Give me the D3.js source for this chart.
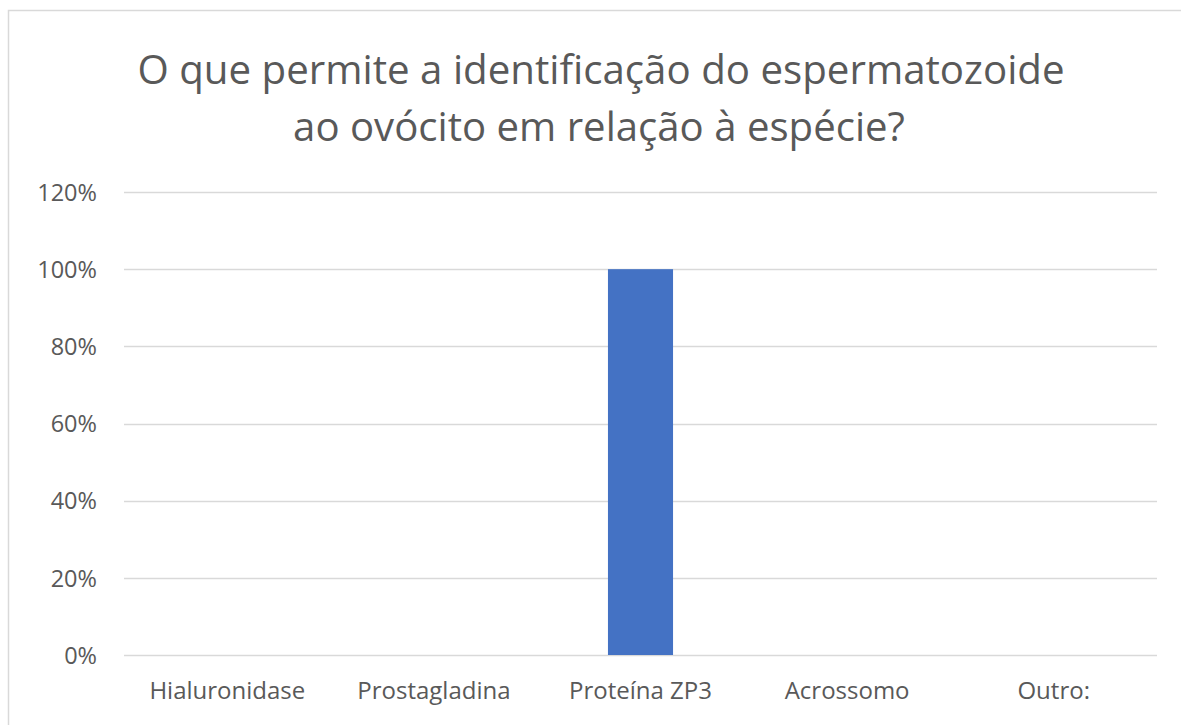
<!DOCTYPE html>
<html><head><meta charset="utf-8">
<script src="https://cdn.jsdelivr.net/npm/d3@7"></script>
<style>body{margin:0;background:#fff;} svg{display:block;} text{font-family:"Open Sans","Liberation Sans",sans-serif;fill:#595959;}</style>
</head><body>
<svg id="c" width="1181" height="725"></svg>
<script>
const categories = ["Hialuronidase","Prostagladina","Proteína ZP3","Acrossomo","Outro:"];
const values = [0, 0, 1, 0, 0];
const yTicks = [0, 0.2, 0.4, 0.6, 0.8, 1.0, 1.2];
const titleLines = ["O que permite a identificação do espermatozoide","ao ovócito em relação à espécie?"];

const svg = d3.select("#c");
svg.append("rect").attr("x",8.5).attr("y",10.5).attr("width",1190).attr("height",730)
  .attr("fill","#fff").attr("stroke","#d9d9d9").attr("stroke-width",1.5);

const m = {left:124, right:1157, top:192, bottom:655};
const x = d3.scaleBand().domain(categories).range([m.left,m.right]).paddingInner(0.685).paddingOuter(0.3425);
const y = d3.scaleLinear().domain([0,1.2]).range([m.bottom,m.top]);

// gridlines
svg.append("g").selectAll("line").data(yTicks).join("line")
  .attr("x1",m.left).attr("x2",m.right)
  .attr("y1",d=>Math.round(y(d))+0.5).attr("y2",d=>Math.round(y(d))+0.5)
  .attr("stroke","#d9d9d9").attr("stroke-width",1.3);

// y axis labels
const yAxis = d3.axisLeft(y).tickValues(yTicks).tickFormat(d3.format(".0%")).tickSize(0).tickPadding(0);
const ya = svg.append("g").attr("transform","translate(97,0)").call(yAxis);
ya.select(".domain").remove();
ya.selectAll("text").style("font-size","23.5px").style("fill","#595959").attr("dy","0.35em")
  .style("font-family","'Open Sans','Liberation Sans',sans-serif");

// bars
svg.append("g").selectAll("rect").data(categories).join("rect")
  .attr("x",d=>x(d)).attr("width",x.bandwidth())
  .attr("y",(d,i)=>y(values[i])).attr("height",(d,i)=>y(0)-y(values[i]))
  .attr("fill","#4472C4");

// x axis labels
const xAxis = d3.axisBottom(x).tickSize(0).tickPadding(0);
const xa = svg.append("g").attr("transform","translate(0,691)").call(xAxis);
xa.select(".domain").remove();
xa.selectAll("text").style("font-size","24px").style("fill","#595959").attr("dy","0.35em")
  .style("font-family","'Open Sans','Liberation Sans',sans-serif");

// title
const targets = [{cx:601, w:927, y:84},{cx:599, w:612, y:141}];
titleLines.forEach((t,i)=>{
  const el = svg.append("text").attr("x",targets[i].cx).attr("y",targets[i].y)
    .attr("text-anchor","middle").style("font-size","38px").style("fill","#595959").text(t);
  const w = el.node().getComputedTextLength();
  el.style("font-size",(38*targets[i].w/w).toFixed(2)+"px");
});
</script>
</body></html>
